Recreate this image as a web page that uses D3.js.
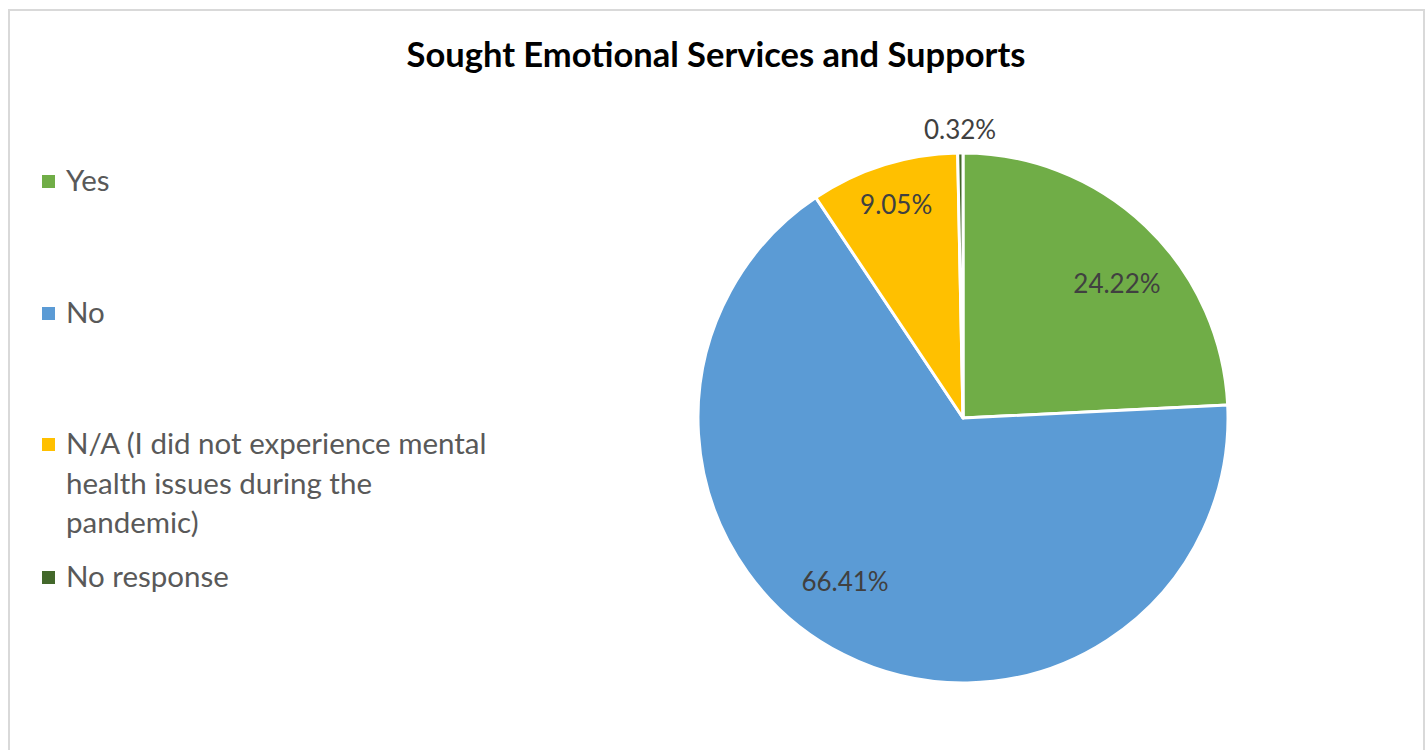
<!DOCTYPE html>
<html>
<head>
<meta charset="utf-8">
<script src="https://cdn.jsdelivr.net/npm/d3@7"></script>
<style>
  html, body { margin: 0; padding: 0; background: #fff; }
  svg { display: block; }
</style>
</head>
<body>
<svg id="chart" width="1428" height="750"></svg>
<script>
// Survey responses: sought emotional services and supports (percent)
const categories = ["Yes", "No", "N/A (I did not experience mental health issues during the pandemic)", "No response"];
const legendLines = [["Yes"], ["No"], ["N/A (I did not experience mental", "health issues during the", "pandemic)"], ["No response"]];
const values = [24.22, 66.41, 9.05, 0.32];
const colors = ["#70ad47", "#5b9bd5", "#ffc000", "#43682b"];
const titleText = "Sought Emotional Services and Supports";

const W = 1428, H = 750;
const svg = d3.select("#chart");
const font = "Lato, 'Open Sans', sans-serif";

// chart frame
svg.append("rect")
  .attr("x", 9).attr("y", 10)
  .attr("width", 1415).attr("height", 760)
  .attr("fill", "#fff")
  .attr("stroke", "#d9d9d9").attr("stroke-width", 2);

// title
svg.append("text")
  .attr("x", 716).attr("y", 67)
  .attr("text-anchor", "middle")
  .attr("font-family", font)
  .attr("font-weight", "bold")
  .attr("font-size", 34.5)
  .attr("fill", "#000")
  .text(titleText);

// pie
const cx = 963, cy = 418, R = 265;
const pie = d3.pie().sort(null).value(d => d.value);
const data = categories.map((c, i) => ({ name: c, value: values[i], color: colors[i] }));
const arcs = pie(data);
const arc = d3.arc().innerRadius(0).outerRadius(R);

const g = svg.append("g").attr("transform", `translate(${cx},${cy})`);
g.selectAll("path.slice")
  .data(arcs)
  .join("path")
  .attr("class", "slice")
  .attr("d", arc)
  .attr("fill", d => d.data.color)
  .attr("stroke", "#fff")
  .attr("stroke-width", 3)
  .attr("stroke-linejoin", "round");

// data labels: inside for large slices, outside for the tiny one
// [distance from centre, angular nudge in degrees]
const labelPlace = [[204, 5.4], [202, 9], [223, 0], [288, 0]];
const fmt = v => v.toFixed(2) + "%";
g.selectAll("text.lbl")
  .data(arcs)
  .join("text")
  .attr("class", "lbl")
  .attr("transform", (d, i) => {
    const [r, nudge] = labelPlace[i];
    const a = (d.startAngle + d.endAngle) / 2 + nudge * Math.PI / 180;
    return `translate(${r * Math.sin(a)},${-r * Math.cos(a)})`;
  })
  .attr("text-anchor", "middle")
  .attr("dy", "0.35em")
  .attr("font-family", font)
  .attr("font-size", 26)
  .attr("fill", "#404040")
  .text(d => fmt(d.data.value));

// legend
const legendY = [181, 313, 444, 577];
const lineH = 39.5;
const lg = svg.append("g");
legendLines.forEach((lines, i) => {
  lg.append("rect")
    .attr("x", 42).attr("y", legendY[i] - 6)
    .attr("width", 13).attr("height", 13)
    .attr("fill", colors[i]);
  const t = lg.append("text")
    .attr("font-family", font)
    .attr("font-size", 29.5)
    .attr("fill", "#595959");
  lines.forEach((ln, j) => {
    t.append("tspan")
      .attr("x", 66)
      .attr("y", legendY[i] + j * lineH)
      .attr("dy", "0.35em")
      .text(ln);
  });
});
</script>
</body>
</html>
